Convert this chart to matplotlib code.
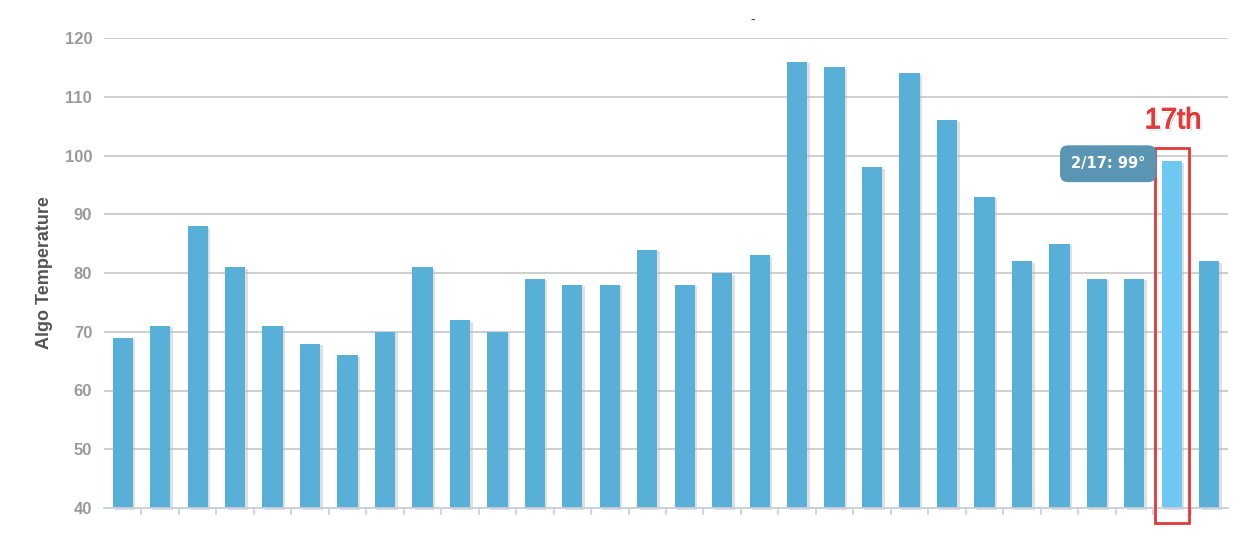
import matplotlib
matplotlib.use("Agg")
import matplotlib.pyplot as plt
import matplotlib.transforms as mtransforms
import matplotlib.patheffects as pe
from matplotlib.patches import Rectangle
import numpy as np

# ---- data ----
days = [str(i) for i in range(1, 31)]
temps = [69, 71, 88, 81, 71, 68, 66, 70, 81, 72, 70, 79, 78, 78, 84, 78, 80, 83,
         116, 115, 98, 114, 106, 93, 82, 85, 79, 79, 99, 82]
highlight_index = 28
tooltip_text = "2/17: 99°"
callout_text = "17th"
y_ticks = [40, 50, 60, 70, 80, 90, 100, 110, 120]
y_label = "Algo Temperature"

bar_color = "#58AFD8"
hi_color = "#6EC8EF"

fig = plt.figure(figsize=(12.5, 5.4), dpi=100)
ax = fig.add_axes([104/1250, 1-508/540, (1228-104)/1250, (508-38)/540])

x = np.arange(len(temps))
colors = [hi_color if i == highlight_index else bar_color for i in range(len(temps))]
width = 0.54

# shadow bars
shadow_tr = ax.transData + mtransforms.ScaledTranslation(2.5/100, -1.5/100, fig.dpi_scale_trans)
ax.bar(x, [t - 40 for t in temps], bottom=40, width=width, color="#BBBBBB", alpha=0.45,
       transform=shadow_tr, zorder=2, clip_on=False)
ax.bar(x, [t - 40 for t in temps], bottom=40, width=width, color=colors, zorder=3)

ax.set_xlim(-0.5, len(temps) - 0.5)
ax.set_ylim(40, 120)
ax.set_yticks(y_ticks)
ax.set_yticklabels([str(v) for v in y_ticks])
ax.yaxis.grid(True, color="#CCCCCC", linewidth=1.3, zorder=1)
ax.set_axisbelow(True)
for s in ["top", "right", "left"]:
    ax.spines[s].set_visible(False)
ax.spines["bottom"].set_color("#C8D0DC")
ax.spines["bottom"].set_linewidth(1.3)
ax.spines["bottom"].set_zorder(4)

ax.set_xticks(np.arange(0.5, len(temps) - 1, 1.0))
ax.set_xticklabels([])
ax.tick_params(axis="x", length=5, color="#C8D0DC", width=1.2, direction="out")
ax.tick_params(axis="y", length=0, pad=8.5, labelcolor="#9A9A9A")
for lab in ax.get_yticklabels():
    lab.set_fontweight("bold")
    lab.set_family("Liberation Sans")
    lab.set_fontsize(12)

ax.set_ylabel(y_label, fontsize=13, fontweight="bold", color="#555555",
              family="Liberation Sans", labelpad=8)

# tiny title dash
fig.text(753/1250, 1-20/540, "-", ha="center", va="center", fontsize=9, color="#333333")

# red highlight box
box = Rectangle((highlight_index - 0.46, 37.4), 0.92, 101.3 - 37.4, fill=False,
                edgecolor="#E03A3A", linewidth=2, zorder=6, clip_on=False)
ax.add_patch(box)

# callout text
ax.text(highlight_index + 0.03, 106.0, callout_text, ha="center", va="center",
        fontsize=21, color="#E23A3A", family="Liberation Sans", zorder=7, clip_on=False,
        path_effects=[pe.withSimplePatchShadow(offset=(1.5, -1.5), shadow_rgbFace="#999999", alpha=0.5),
                      pe.withStroke(linewidth=2.5, foreground="white"),
                      pe.withStroke(linewidth=0.8, foreground="#E23A3A")])

# tooltip
ax.text(26.3, 98.6, tooltip_text, ha="center", va="center", fontsize=10.5, color="white",
        fontweight="bold", family="DejaVu Sans", zorder=8,
        bbox=dict(boxstyle="round,pad=0.7,rounding_size=0.5", facecolor="#5A95B3",
                  edgecolor="#5A95B3"))

fig.savefig("out.png", dpi=100)
